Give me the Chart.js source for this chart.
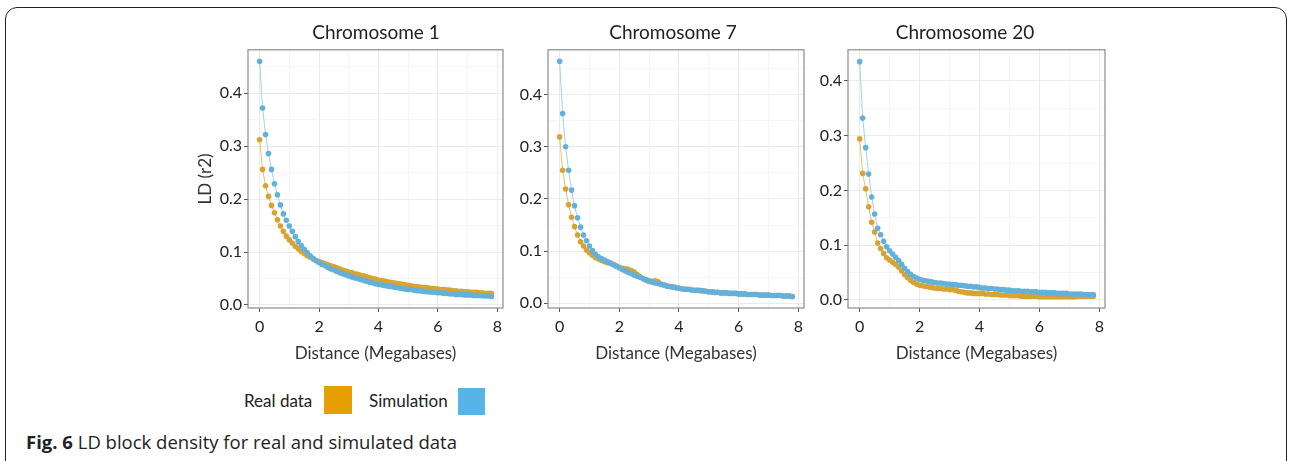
<!DOCTYPE html>
<html>
<head>
<meta charset="utf-8">
<script src="https://cdn.jsdelivr.net/npm/chart.js@4/dist/chart.umd.min.js"></script>
<style>
  body {
    margin: 0;
    width: 1293px;
    height: 461px;
    background: #fff;
    position: relative;
    overflow: hidden;
    font-family: Lato, sans-serif;
  }
  .frame {
    position: absolute;
    left: 5px;
    top: 7px;
    width: 1280px;
    height: 480px;
    border: 1.5px solid #222;
    border-radius: 12px;
  }
  canvas {
    position: absolute;
    top: 0;
  }
  .legend-text {
    position: absolute;
    font-size: 17px;
    color: #222;
    line-height: 20px;
  }
  .legend-box {
    position: absolute;
  }
  .caption {
    position: absolute;
    left: 26px;
    top: 429px;
    font-family: "Open Sans", sans-serif;
    font-size: 18.5px;
    line-height: 25px;
    color: #222;
  }
</style>
</head>
<body>
<div class="frame"></div>
<canvas id="chr1" width="380" height="380" style="left:186px"></canvas>
<canvas id="chr7" width="346" height="380" style="left:500px"></canvas>
<canvas id="chr20" width="330" height="380" style="left:800px"></canvas>

<span class="legend-text" style="left:244px; top:391px">Real data</span>
<div class="legend-box" style="left:324px; top:386px; width:28px; height:28px; background:#E69F00"></div>
<span class="legend-text" style="left:369px; top:391px">Simulation</span>
<div class="legend-box" style="left:458px; top:388px; width:27px; height:27px; background:#56B4E9"></div>

<div class="caption"><b>Fig. 6</b> LD block density for real and simulated data</div>

<script>
// distance in megabases, shared by every panel
let distance = [
  0.0, 0.1, 0.2, 0.3, 0.4, 0.5, 0.6, 0.7, 0.8, 0.9,
  1.0, 1.1, 1.2, 1.3, 1.4, 1.5, 1.6, 1.7, 1.8, 1.9,
  2.0, 2.1, 2.2, 2.3, 2.4, 2.5, 2.6, 2.7, 2.8, 2.9,
  3.0, 3.1, 3.2, 3.3, 3.4, 3.5, 3.6, 3.7, 3.8, 3.9,
  4.0, 4.1, 4.2, 4.3, 4.4, 4.5, 4.6, 4.7, 4.8, 4.9,
  5.0, 5.1, 5.2, 5.3, 5.4, 5.5, 5.6, 5.7, 5.8, 5.9,
  6.0, 6.1, 6.2, 6.3, 6.4, 6.5, 6.6, 6.7, 6.8, 6.9,
  7.0, 7.1, 7.2, 7.3, 7.4, 7.5, 7.6, 7.7, 7.8,
];

let real1 = [
  0.312, 0.256, 0.225, 0.205, 0.188, 0.174, 0.161, 0.149, 0.139, 0.130,
  0.123, 0.117, 0.111, 0.106, 0.101, 0.097, 0.093, 0.090, 0.087, 0.084,
  0.082, 0.080, 0.078, 0.076, 0.074, 0.072, 0.070, 0.068, 0.066, 0.064,
  0.062, 0.061, 0.059, 0.058, 0.056, 0.055, 0.053, 0.052, 0.050, 0.049,
  0.047, 0.046, 0.045, 0.044, 0.043, 0.042, 0.041, 0.040, 0.039, 0.038,
  0.037, 0.036, 0.035, 0.035, 0.034, 0.033, 0.033, 0.032, 0.031, 0.031,
  0.030, 0.029, 0.029, 0.028, 0.028, 0.027, 0.027, 0.026, 0.026, 0.025,
  0.025, 0.024, 0.024, 0.024, 0.023, 0.023, 0.022, 0.022, 0.022,
];
let sim1 = [
  0.460, 0.372, 0.322, 0.286, 0.256, 0.229, 0.208, 0.189, 0.172, 0.160,
  0.149, 0.139, 0.129, 0.120, 0.112, 0.105, 0.099, 0.093, 0.088, 0.084,
  0.080, 0.077, 0.074, 0.071, 0.068, 0.066, 0.063, 0.061, 0.059, 0.057,
  0.055, 0.053, 0.051, 0.050, 0.048, 0.046, 0.045, 0.043, 0.042, 0.040,
  0.039, 0.038, 0.037, 0.036, 0.035, 0.034, 0.033, 0.032, 0.031, 0.030,
  0.029, 0.029, 0.028, 0.027, 0.027, 0.026, 0.025, 0.025, 0.024, 0.024,
  0.023, 0.023, 0.022, 0.022, 0.021, 0.021, 0.020, 0.020, 0.020, 0.019,
  0.019, 0.019, 0.018, 0.018, 0.018, 0.017, 0.017, 0.017, 0.016,
];

let real7 = [
  0.319, 0.255, 0.219, 0.189, 0.165, 0.147, 0.131, 0.118, 0.110, 0.102,
  0.097, 0.092, 0.088, 0.085, 0.082, 0.080, 0.078, 0.077, 0.075, 0.072,
  0.069, 0.067, 0.066, 0.065, 0.063, 0.060, 0.055, 0.051, 0.047, 0.044,
  0.042, 0.042, 0.043, 0.041, 0.037, 0.035, 0.033, 0.032, 0.031, 0.030,
  0.029, 0.028, 0.027, 0.027, 0.026, 0.025, 0.025, 0.025, 0.024, 0.023,
  0.022, 0.022, 0.021, 0.021, 0.020, 0.020, 0.020, 0.019, 0.019, 0.019,
  0.018, 0.018, 0.018, 0.017, 0.017, 0.017, 0.017, 0.016, 0.016, 0.016,
  0.016, 0.015, 0.015, 0.015, 0.015, 0.014, 0.014, 0.014, 0.013,
];
let sim7 = [
  0.464, 0.364, 0.300, 0.255, 0.217, 0.187, 0.164, 0.146, 0.131, 0.120,
  0.110, 0.101, 0.094, 0.089, 0.086, 0.083, 0.080, 0.077, 0.074, 0.071,
  0.068, 0.065, 0.062, 0.059, 0.057, 0.054, 0.052, 0.050, 0.047, 0.045,
  0.043, 0.041, 0.039, 0.038, 0.036, 0.035, 0.033, 0.032, 0.031, 0.030,
  0.029, 0.028, 0.027, 0.027, 0.026, 0.025, 0.025, 0.024, 0.024, 0.023,
  0.022, 0.022, 0.021, 0.021, 0.020, 0.020, 0.020, 0.019, 0.019, 0.019,
  0.018, 0.018, 0.018, 0.017, 0.017, 0.017, 0.017, 0.016, 0.016, 0.016,
  0.016, 0.015, 0.015, 0.015, 0.015, 0.014, 0.014, 0.014, 0.013,
];

let real20 = [
  0.294, 0.231, 0.203, 0.170, 0.142, 0.124, 0.104, 0.094, 0.085, 0.077,
  0.073, 0.069, 0.065, 0.060, 0.053, 0.046, 0.041, 0.036, 0.032, 0.029,
  0.027, 0.026, 0.025, 0.024, 0.023, 0.022, 0.021, 0.021, 0.020, 0.020,
  0.019, 0.019, 0.018, 0.016, 0.015, 0.014, 0.013, 0.013, 0.012, 0.012,
  0.012, 0.012, 0.011, 0.011, 0.010, 0.010, 0.010, 0.009, 0.009, 0.009,
  0.008, 0.008, 0.008, 0.008, 0.007, 0.007, 0.007, 0.007, 0.007, 0.007,
  0.006, 0.006, 0.006, 0.006, 0.006, 0.006, 0.006, 0.006, 0.006, 0.006,
  0.006, 0.006, 0.006, 0.007, 0.007, 0.007, 0.007, 0.007, 0.007,
];
let sim20 = [
  0.435, 0.332, 0.278, 0.230, 0.188, 0.157, 0.131, 0.119, 0.107, 0.097,
  0.090, 0.084, 0.078, 0.072, 0.065, 0.058, 0.052, 0.047, 0.043, 0.040,
  0.038, 0.036, 0.035, 0.034, 0.033, 0.032, 0.031, 0.031, 0.030, 0.029,
  0.029, 0.028, 0.028, 0.027, 0.027, 0.026, 0.025, 0.025, 0.024, 0.024,
  0.023, 0.022, 0.022, 0.021, 0.021, 0.020, 0.020, 0.019, 0.019, 0.018,
  0.018, 0.017, 0.017, 0.017, 0.016, 0.016, 0.016, 0.015, 0.015, 0.015,
  0.014, 0.014, 0.014, 0.013, 0.013, 0.013, 0.012, 0.012, 0.012, 0.012,
  0.011, 0.011, 0.011, 0.011, 0.011, 0.010, 0.010, 0.010, 0.010,
];

let xTicks = [0, 2, 4, 6, 8];
let yTicks = [0.0, 0.1, 0.2, 0.3, 0.4];

Chart.defaults.font.family = "Lato, sans-serif";
Chart.defaults.color = "#222";

// ggplot-like grey box round the plotting area
const panelBorder = {
  id: "panelBorder",
  afterDatasetsDraw(chart) {
    const { ctx, chartArea: a } = chart;
    ctx.save();
    ctx.strokeStyle = "#8c8c8c";
    ctx.lineWidth = 1.2;
    ctx.strokeRect(a.left, a.top, a.right - a.left, a.bottom - a.top);
    ctx.restore();
  },
};

const isMajor = (list, v) => list.some((t) => Math.abs(t - v) < 1e-6);

function points(ys) {
  return distance.map((d, i) => ({ x: d, y: ys[i] }));
}

function makePanel(id, title, real, sim, yMin, yMax, yWidth, rightGap, yTitle) {
  let ctx = document.getElementById(id).getContext("2d");
  return new Chart(ctx, {
    type: "scatter",
    data: {
      datasets: [
        {
          label: "Simulation",
          data: points(sim),
          showLine: true,
          borderColor: "#a3cfe8",
          borderWidth: 1,
          pointBackgroundColor: "#63b1da",
          pointBorderWidth: 0,
          pointRadius: 2.8,
        },
        {
          label: "Real data",
          data: points(real),
          showLine: true,
          borderColor: "#e6c071",
          borderWidth: 1,
          pointBackgroundColor: "#d8a331",
          pointBorderWidth: 0,
          pointRadius: 2.8,
        },
      ],
    },
    options: {
      responsive: false,
      animation: false,
      layout: {
        padding: { left: 0, right: 0, top: 0, bottom: 12 },
      },
      plugins: {
        legend: { display: false },
        tooltip: { enabled: false },
        title: {
          display: true,
          text: title,
          color: "#222",
          font: { size: 19, weight: "normal" },
          padding: { top: 21, bottom: 6 },
        },
      },
      scales: {
        x: {
          type: "linear",
          min: -0.39,
          max: 8.19,
          afterFit: (s) => {
            s.height = 60;
          },
          border: { display: false },
          grid: {
            color: (c) => (isMajor(xTicks, c.tick.value) ? "#ebebeb" : "#f5f5f5"),
            tickColor: (c) => (isMajor(xTicks, c.tick.value) ? "#555" : "rgba(0,0,0,0)"),
            tickLength: 4,
          },
          ticks: {
            stepSize: 1,
            maxTicksLimit: 20,
            includeBounds: false,
            autoSkip: false,
            maxRotation: 0,
            padding: 5,
            color: "#222",
            font: { size: 16 },
            callback: (v) => (isMajor(xTicks, v) ? String(Math.round(v)) : ""),
          },
          title: {
            display: true,
            text: "Distance (Megabases)",
            color: "#333",
            font: { size: 17 },
            padding: { top: 0, bottom: 4 },
          },
        },
        y: {
          min: yMin,
          max: yMax,
          afterFit: (s) => {
            s.width = yWidth;
          },
          border: { display: false },
          grid: {
            color: (c) => (isMajor(yTicks, c.tick.value) ? "#ebebeb" : "#f5f5f5"),
            tickColor: (c) => (isMajor(yTicks, c.tick.value) ? "#555" : "rgba(0,0,0,0)"),
            tickLength: 4,
          },
          ticks: {
            stepSize: 0.05,
            maxTicksLimit: 20,
            includeBounds: false,
            autoSkip: false,
            padding: 2,
            color: "#222",
            font: { size: 16 },
            callback: (v) => (isMajor(yTicks, v) ? v.toFixed(1) : ""),
          },
          title: {
            display: yTitle,
            text: "LD (r2)",
            color: "#333",
            font: { size: 17 },
            padding: { top: 9, bottom: 0 },
          },
        },
        // empty right-hand axis, only keeps the gap so the title stays centred on the canvas
        gap: {
          position: "right",
          grid: { display: false },
          border: { display: false },
          ticks: { display: false },
          afterFit: (s) => {
            s.width = rightGap;
          },
        },
      },
    },
    plugins: [panelBorder],
  });
}

let chr1Chart = makePanel("chr1", "Chromosome 1", real1, sim1, -0.0057, 0.4818, 62, 63, true);
let chr7Chart = makePanel("chr7", "Chromosome 7", real7, sim7, -0.009, 0.486, 48, 42, false);
let chr20Chart = makePanel("chr20", "Chromosome 20", real20, sim20, -0.0146, 0.4566, 48, 25, false);
</script>
</body>
</html>
